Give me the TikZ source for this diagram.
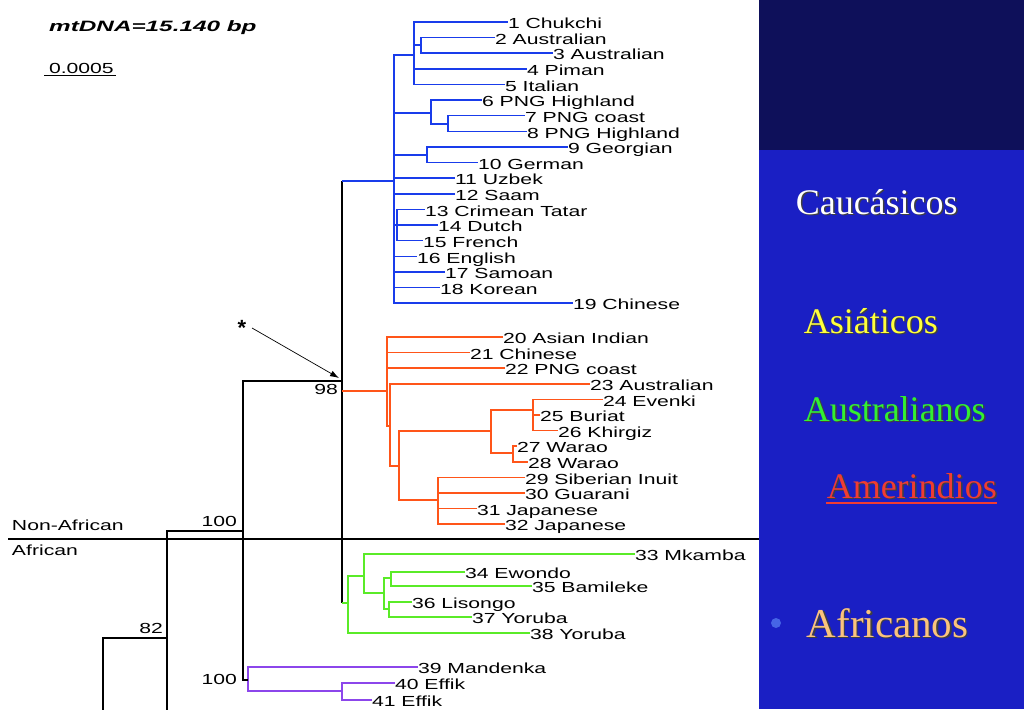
\documentclass[tikz,border=0pt]{standalone}
\usepackage{fontspec}
\setmainfont{Liberation Sans}
\newfontfamily\slidefont{Liberation Serif}
\usepackage{tikz}
\usetikzlibrary{arrows.meta}

\definecolor{treeblue}{RGB}{25,60,235}
\definecolor{treeorange}{RGB}{255,85,25}
\definecolor{treegreen}{RGB}{90,235,40}
\definecolor{treepurple}{RGB}{140,70,235}
\definecolor{panelblue}{RGB}{26,31,196}
\definecolor{paneldark}{RGB}{14,16,90}
\definecolor{asiayellow}{RGB}{255,255,60}
\definecolor{ausgreen}{RGB}{50,240,50}
\definecolor{amerred}{RGB}{240,60,50}
\definecolor{afripeach}{RGB}{250,195,125}
\definecolor{bulletblue}{RGB}{70,100,230}

\begin{document}
\begin{tikzpicture}[x=1pt,y=-1pt,line width=1.5pt,
    leaf/.style={anchor=west,inner sep=0pt,outer sep=0pt,xscale=1.45,
      font=\fontsize{14.6}{16}\selectfont,text height=13.5pt,text depth=0pt},
    boot/.style={anchor=east,inner sep=0pt,xscale=1.45,font=\fontsize{14.6}{16}\selectfont},
    bluetree/.style={treeblue},
    orangetree/.style={treeorange},
    greentree/.style={treegreen},
    purpletree/.style={treepurple},
    slidetext/.style={anchor=base west,inner sep=0pt,font=\slidefont\fontsize{36}{40}\selectfont}]
  \useasboundingbox (0,0) rectangle (1024,709);
  \fill[paneldark] (759,0) rectangle (1024,150);
  \fill[panelblue] (759,150) rectangle (1024,709);

  \node[anchor=west,inner sep=0pt,xscale=1.62,font=\fontsize{15}{17}\selectfont\bfseries\itshape] (title) at (48,28) {mtDNA=15.140 bp};
  \node[leaf] (bar) at (49,66.5) {0.0005};
  \draw ([xshift=-5pt,yshift=-2pt]bar.south west) -- ([xshift=2pt,yshift=-2pt]bar.south east);

  % leaves
  \foreach \i/\x/\name in {1/508/Chukchi,2/495/Australian,3/553/Australian,4/527/Piman,5/505/Italian,
      6/482/PNG Highland,7/525/PNG coast,8/527/PNG Highland,9/568/Georgian,10/478/German,
      11/455/Uzbek,12/455/Saam,13/425/Crimean Tatar,14/438/Dutch,15/423/French,
      16/417/English,17/445/Samoan,18/440/Korean,19/573/Chinese}
    \node[leaf] (t\i) at (\x,{22+(\i-1)*15.62}) {\i\ \name};
  \foreach \i/\x/\name in {20/503/Asian Indian,21/470/Chinese,22/505/PNG coast,23/590/Australian,
      24/603/Evenki,25/540/Buriat,26/558/Khirgiz,27/517/Warao,28/528/Warao,
      29/525/Siberian Inuit,30/525/Guarani,31/477/Japanese,32/505/Japanese}
    \node[leaf] (t\i) at (\x,{337+(\i-20)*15.6}) {\i\ \name};
  \foreach \i/\x/\y/\name in {33/635/554/Mkamba,34/465/572/Ewondo,35/532/586/Bamileke,
      36/412/602/Lisongo,37/472/617/Yoruba,38/530/633/Yoruba,
      39/418/667/Mandenka,40/395/683/Effik,41/372/700/Effik}
    \node[leaf] (t\i) at (\x,\y) {\i\ \name};

  % inner nodes
  \coordinate (bR) at (394,181);
  \coordinate (b1) at (414,55);
  \coordinate (b2) at (421,45);
  \coordinate (b3) at (431,113);
  \coordinate (b4) at (448,124);
  \coordinate (b5) at (427,155);
  \coordinate (b6) at (397,225);
  \coordinate (oR) at (387,391);
  \coordinate (o1) at (390,426);
  \coordinate (o2) at (399,466);
  \coordinate (o3) at (491,431);
  \coordinate (o4) at (533,410);
  \coordinate (o5) at (513,453);
  \coordinate (o6) at (438,500);
  \coordinate (gR) at (348,603);
  \coordinate (g1) at (364,576);
  \coordinate (g2) at (384,593);
  \coordinate (g3) at (391,578);
  \coordinate (g4) at (389,609);
  \coordinate (pR) at (248,680);
  \coordinate (p1) at (342,691);
  \coordinate (k98) at (342,381);
  \coordinate (k100) at (243,531);
  \coordinate (k82) at (167,638);
  \coordinate (kOut) at (103,712);

  \foreach \a/\b in {bR/b1,bR/b3,bR/b5,bR/t11.west,bR/t12.west,bR/b6,bR/t16.west,bR/t17.west,
      bR/t18.west,bR/t19.west,b1/t1.west,b1/b2,b1/t4.west,b1/t5.west,b2/t2.west,b2/t3.west,
      b3/t6.west,b3/b4,b4/t7.west,b4/t8.west,b5/t9.west,b5/t10.west,
      b6/t13.west,b6/t14.west,b6/t15.west}
    \draw[bluetree] (\a) |- (\b);
  \foreach \a/\b in {oR/t20.west,oR/t21.west,oR/t22.west,oR/o1,o1/t23.west,o1/o2,o2/o3,o2/o6,
      o3/o4,o3/o5,o4/t24.west,o4/t25.west,o4/t26.west,o5/t27.west,o5/t28.west,
      o6/t29.west,o6/t30.west,o6/t31.west,o6/t32.west}
    \draw[orangetree] (\a) |- (\b);
  \foreach \a/\b in {gR/g1,gR/t38.west,g1/t33.west,g1/g2,g2/g3,g2/g4,
      g3/t34.west,g3/t35.west,g4/t36.west,g4/t37.west}
    \draw[greentree] (\a) |- (\b);
  \foreach \a/\b in {pR/t39.west,pR/p1,p1/t40.west,p1/t41.west}
    \draw[purpletree] (\a) |- (\b);

  \draw (kOut) |- (k82);
  \draw (k82) -- (k82 |- kOut);
  \draw (k82) |- (k100);
  \draw (k100) |- (k98);
  \draw (k100) |- (pR);
  \draw (k98 |- bR) -- (k98 |- gR);
  \draw[bluetree] (k98 |- bR) -- (bR);
  \draw[orangetree] (k98 |- oR) -- (oR);
  \draw[greentree] (k98 |- gR) -- (gR);

  \node[boot] (bs98) at (339,389) {98};
  \node[boot] (bs100a) at (238,521) {100};
  \node[boot] (bs82) at (164,628) {82};
  \node[boot] (bs100b) at (238,679) {100};

  \coordinate (divL) at (8,539);
  \coordinate (divR) at (759,539);
  \draw (divL) -- (divR);
  \node[leaf] (nonafr) at (12,523.5) {Non-African};
  \node[leaf] (afr) at (12,548.5) {African};

  \node[inner sep=0pt,font=\fontsize{22}{24}\selectfont\bfseries] (star) at (242,328) {*};
  \draw[line width=0.7pt,-{Latex[length=9pt,width=6pt]}] ([xshift=5pt]star.east) -- ([xshift=-3pt,yshift=3pt]k98);

  % slide labels, with their shadow
  \foreach \c/\x/\y/\txt in {white/795/214/Caucásicos,asiayellow/803/333/Asiáticos,
      ausgreen/803/421/Australianos,amerred/826/498/Amerindios}{
    \node[slidetext,black!75] at (\x+1.5,\y+1.5) {\txt};
    \node[slidetext,\c] (lab\x\y) at (\x,\y) {\txt};
  }
  \draw[amerred,line width=1.5pt] ([yshift=-5pt]lab826498.base west) -- ([yshift=-5pt]lab826498.base east);
  \fill[bulletblue] (776,623) circle[radius=5];
  \node[slidetext,black!75,font=\slidefont\fontsize{41}{45}\selectfont] at (807.5,638.5) {Africanos};
  \node[slidetext,afripeach,font=\slidefont\fontsize{41}{45}\selectfont] (afri) at (806,637) {Africanos};
\end{tikzpicture}
\end{document}
